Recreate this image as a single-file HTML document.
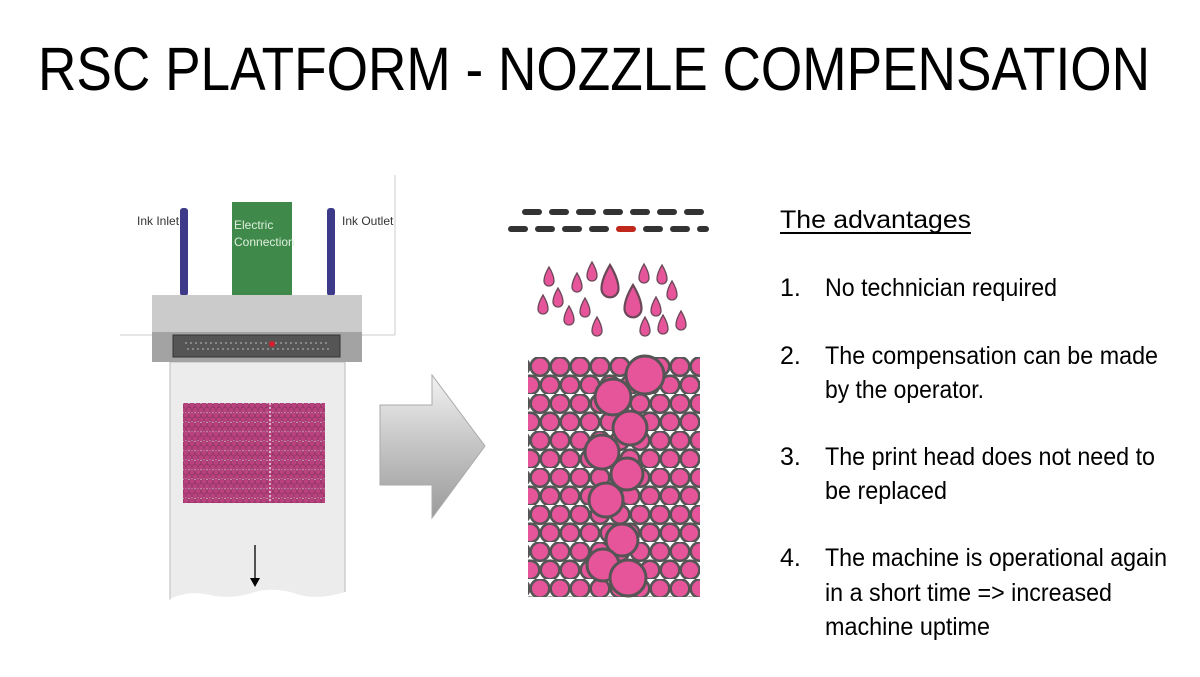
<!DOCTYPE html>
<html><head><meta charset="utf-8"><style>html,body{margin:0;padding:0;background:#fff}svg{display:block}</style></head>
<body>
<svg width="1200" height="677" viewBox="0 0 1200 677" xmlns="http://www.w3.org/2000/svg" font-family="Liberation Sans, sans-serif">
<defs>
<pattern id="tiny" x="183" y="403" width="6" height="9.5" patternUnits="userSpaceOnUse">
<circle cx="3" cy="2.5" r="2.9" fill="#b8417e" stroke="#8a2e5c" stroke-width="0.6"/>
<circle cx="0" cy="7.25" r="2.9" fill="#b8417e" stroke="#8a2e5c" stroke-width="0.6"/>
<circle cx="6" cy="7.25" r="2.9" fill="#b8417e" stroke="#8a2e5c" stroke-width="0.6"/>
</pattern>
<pattern id="big" x="530" y="357" width="20" height="37" patternUnits="userSpaceOnUse">
<circle cx="10" cy="9.5" r="9.3" fill="#e6559a" stroke="#555" stroke-width="2.6"/>
<circle cx="0" cy="28" r="9.3" fill="#e6559a" stroke="#555" stroke-width="2.6"/>
<circle cx="20" cy="28" r="9.3" fill="#e6559a" stroke="#555" stroke-width="2.6"/>
</pattern>
<linearGradient id="ag" x1="0" y1="0" x2="0" y2="1">
<stop offset="0" stop-color="#f2f2f2"/><stop offset="0.5" stop-color="#c4c4c4"/><stop offset="1" stop-color="#9a9a9a"/>
</linearGradient>
<path id="drop" d="M0 -10 C3 -5 5 0 5 4 A5 5 0 0 1 -5 4 C-5 0 -3 -5 0 -10 Z"/>
</defs>

<text x="38" y="90" font-size="61" textLength="1112" lengthAdjust="spacingAndGlyphs" fill="#000">RSC PLATFORM - NOZZLE COMPENSATION</text>

<!-- left diagram -->
<line x1="395" y1="175" x2="395" y2="335" stroke="#ccc" stroke-width="1"/>
<line x1="120" y1="335" x2="395" y2="335" stroke="#ccc" stroke-width="1"/>
<rect x="170" y="362" width="175" height="240" fill="#ececec" stroke="#bbb" stroke-width="1"/>
<path d="M165 603 L172 598 Q190 590 210 595 Q232 600 255 592 Q275 586 300 595 Q320 600 345 592 L358 603 Z" fill="#fff"/>
<rect x="180" y="208" width="8" height="88" rx="3" fill="#3d3a8a"/>
<rect x="327" y="208" width="8" height="88" rx="3" fill="#3d3a8a"/>
<rect x="232" y="202" width="60" height="94" fill="#3f8a4a"/>
<text x="234" y="229" font-size="12" fill="#dfeede">Electric</text>
<text x="234" y="246" font-size="12" fill="#dfeede">Connection</text>
<text x="137" y="225" font-size="12" fill="#333">Ink Inlet</text>
<text x="342" y="225" font-size="12" fill="#333">Ink Outlet</text>
<rect x="152" y="295" width="210" height="38" fill="#cbcbcb"/>
<rect x="152" y="332" width="210" height="30" fill="#a3a3a3"/>
<rect x="173" y="335" width="167" height="22" fill="#555" stroke="#333"/>
<line x1="185" y1="343" x2="330" y2="343" stroke="#999" stroke-width="1.5" stroke-dasharray="2 3"/>
<line x1="187" y1="349" x2="330" y2="349" stroke="#999" stroke-width="1.5" stroke-dasharray="2 3"/>
<circle cx="272" cy="344" r="3" fill="#d0202a"/>
<rect x="183" y="403" width="142" height="100" fill="url(#tiny)"/>
<line x1="270" y1="403" x2="270" y2="503" stroke="#fff" stroke-width="1.2" stroke-dasharray="2 2"/>
<line x1="255" y1="545" x2="255" y2="580" stroke="#000" stroke-width="1.3"/>
<path d="M250 578 L260 578 L255 587 Z" fill="#000"/>

<!-- arrow -->
<path d="M380 405 L432 405 L432 375 L485 446 L432 518 L432 485 L380 485 Z" fill="url(#ag)" stroke="#aaa"/>

<!-- nozzles -->
<g fill="#333">
<rect x="522" y="209" width="20" height="6" rx="3"/>
<rect x="549" y="209" width="20" height="6" rx="3"/><rect x="576" y="209" width="20" height="6" rx="3"/>
<rect x="603" y="209" width="20" height="6" rx="3"/><rect x="630" y="209" width="20" height="6" rx="3"/>
<rect x="657" y="209" width="20" height="6" rx="3"/><rect x="684" y="209" width="20" height="6" rx="3"/>
<rect x="508" y="226" width="20" height="6" rx="3"/><rect x="535" y="226" width="20" height="6" rx="3"/>
<rect x="562" y="226" width="20" height="6" rx="3"/><rect x="589" y="226" width="20" height="6" rx="3"/>
<rect x="643" y="226" width="20" height="6" rx="3"/><rect x="670" y="226" width="20" height="6" rx="3"/>
<rect x="697" y="226" width="12" height="6" rx="3"/>
</g>
<rect x="616" y="226" width="20" height="6" rx="3" fill="#c0281c"/>

<!-- drops -->
<g fill="#e6559a" stroke="#6a4858" stroke-width="1.3">
<use href="#drop" transform="translate(549,277)"/><use href="#drop" transform="translate(577,283)"/>
<use href="#drop" transform="translate(592,272)"/><use href="#drop" transform="translate(610,282) scale(1.7)"/>
<use href="#drop" transform="translate(543,305)"/><use href="#drop" transform="translate(558,298)"/>
<use href="#drop" transform="translate(569,316)"/><use href="#drop" transform="translate(585,308)"/>
<use href="#drop" transform="translate(597,327)"/><use href="#drop" transform="translate(633,302) scale(1.7)"/>
<use href="#drop" transform="translate(644,274)"/><use href="#drop" transform="translate(662,275)"/>
<use href="#drop" transform="translate(672,291)"/><use href="#drop" transform="translate(656,307)"/>
<use href="#drop" transform="translate(645,327)"/><use href="#drop" transform="translate(663,325)"/>
<use href="#drop" transform="translate(681,321)"/>
</g>

<!-- big grid -->
<rect x="528" y="357" width="172" height="240" fill="url(#big)"/>
<g fill="#e6559a" stroke="#555" stroke-width="3">
<circle cx="645" cy="375" r="19"/><circle cx="613" cy="397" r="18"/>
<circle cx="630" cy="428" r="17"/><circle cx="602" cy="452" r="17"/>
<circle cx="627" cy="474" r="16"/><circle cx="606" cy="500" r="17"/>
<circle cx="622" cy="540" r="16"/><circle cx="603" cy="565" r="16"/>
<circle cx="628" cy="578" r="18"/>
</g>

<!-- text -->
<g fill="#000" font-size="25">
<text x="780" y="228" textLength="191" lengthAdjust="spacingAndGlyphs">The advantages</text>
<rect x="780" y="232" width="191" height="2"/>
<text x="780" y="296">1.</text><text x="825" y="296" textLength="232" lengthAdjust="spacingAndGlyphs">No technician required</text>
<text x="780" y="364">2.</text><text x="825" y="364" textLength="333" lengthAdjust="spacingAndGlyphs">The compensation can be made</text>
<text x="825" y="398" textLength="159" lengthAdjust="spacingAndGlyphs">by the operator.</text>
<text x="780" y="465">3.</text><text x="825" y="465" textLength="330" lengthAdjust="spacingAndGlyphs">The print head does not need to</text>
<text x="825" y="499" textLength="122" lengthAdjust="spacingAndGlyphs">be replaced</text>
<text x="780" y="566">4.</text><text x="825" y="566" textLength="342" lengthAdjust="spacingAndGlyphs">The machine is operational again</text>
<text x="825" y="601" textLength="287" lengthAdjust="spacingAndGlyphs">in a short time =&gt; increased</text>
<text x="825" y="635" textLength="165" lengthAdjust="spacingAndGlyphs">machine uptime</text>
</g>
</svg>
</body></html>
